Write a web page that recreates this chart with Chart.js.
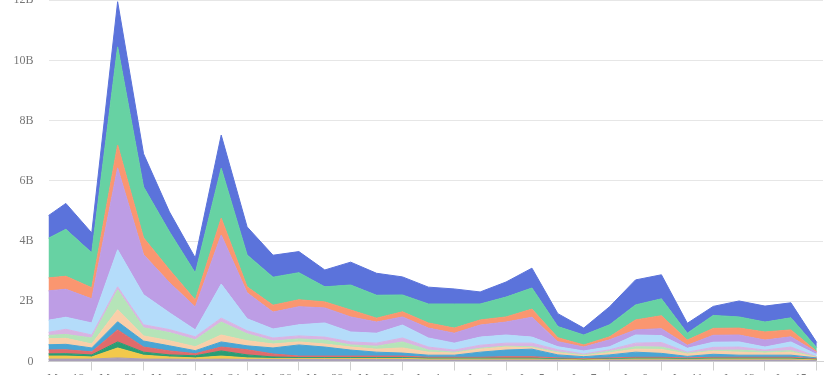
<!DOCTYPE html>
<html>
<head>
<meta charset="utf-8">
<script src="https://cdn.jsdelivr.net/npm/chart.js@4/dist/chart.umd.min.js"></script>
<style>
  html, body { margin: 0; padding: 0; background: #fff; overflow: hidden; }
  #wrap { position: relative; width: 833px; height: 375px; overflow: hidden; }
  #myChart { position: absolute; left: 0; top: -22px; }
</style>
</head>
<body>
<div id="wrap"><canvas id="myChart" width="833" height="412"></canvas></div>
<script>
// one point per day, May 17 .. Jun 16
const dates = [
  'May 17', 'May 18', 'May 19', 'May 20', 'May 21', 'May 22', 'May 23', 'May 24',
  'May 25', 'May 26', 'May 27', 'May 28', 'May 29', 'May 30', 'May 31', 'Jun 1',
  'Jun 2', 'Jun 3', 'Jun 4', 'Jun 5', 'Jun 6', 'Jun 7', 'Jun 8', 'Jun 9',
  'Jun 10', 'Jun 11', 'Jun 12', 'Jun 13', 'Jun 14', 'Jun 15', 'Jun 16'
];
const yTicks = [0, 2, 4, 6, 8, 10, 12];

// values in billions, stacked from the bottom up
const s1 = [0.08,0.08,0.08,0.12,0.08,0.08,0.07,0.08,0.07,0.07,0.07,0.07,0.07,0.07,0.07,0.05,0.05,0.05,0.05,0.05,0.05,0.03,0.05,0.05,0.05,0.05,0.05,0.05,0.05,0.05,0.03];
const s2 = [0.1,0.1,0.07,0.33,0.13,0.07,0.05,0.1,0.05,0.03,0.03,0.03,0.03,0.03,0.03,0.03,0.03,0.03,0.03,0.03,0.02,0.02,0.02,0.03,0.03,0.02,0.03,0.03,0.03,0.03,0.02];
const s3 = [0.07,0.08,0.07,0.2,0.1,0.07,0.07,0.17,0.1,0.05,0.03,0.03,0.03,0.03,0.03,0.03,0.03,0.03,0.03,0.03,0.02,0.02,0.02,0.03,0.03,0.02,0.03,0.03,0.03,0.03,0.02];
const s4 = [0.13,0.13,0.1,0.4,0.17,0.13,0.07,0.13,0.17,0.1,0.05,0.05,0.05,0.05,0.05,0.03,0.03,0.03,0.05,0.05,0.03,0.02,0.03,0.03,0.03,0.03,0.03,0.03,0.03,0.03,0.02];
const s5 = [0.17,0.18,0.13,0.27,0.2,0.17,0.1,0.17,0.13,0.2,0.37,0.3,0.2,0.13,0.1,0.07,0.07,0.17,0.22,0.25,0.1,0.07,0.1,0.17,0.13,0.05,0.1,0.07,0.07,0.07,0.03];
const s6 = [0.2,0.2,0.13,0.4,0.17,0.17,0.13,0.23,0.17,0.13,0.1,0.1,0.1,0.1,0.17,0.1,0.07,0.1,0.1,0.05,0.07,0.03,0.07,0.1,0.13,0.08,0.1,0.1,0.07,0.1,0.02];
const s7 = [0.1,0.13,0.2,0.66,0.27,0.27,0.23,0.43,0.23,0.1,0.1,0.13,0.07,0.1,0.2,0.07,0.03,0.03,0.03,0.03,0.03,0.03,0.05,0.08,0.08,0.03,0.03,0.07,0.05,0.05,0.01];
const s8 = [0.07,0.17,0.1,0.1,0.1,0.1,0.1,0.13,0.1,0.1,0.1,0.1,0.1,0.1,0.13,0.1,0.07,0.1,0.1,0.12,0.07,0.03,0.05,0.12,0.15,0.03,0.1,0.1,0.05,0.12,0.01];
const s9 = [0.4,0.4,0.4,1.23,1.0,0.56,0.23,1.13,0.4,0.3,0.37,0.47,0.33,0.33,0.43,0.3,0.23,0.27,0.27,0.2,0.1,0.1,0.1,0.27,0.23,0.13,0.17,0.17,0.1,0.17,0.07];
const s10 = [1.0,0.93,0.8,2.72,1.33,1.0,0.76,1.63,0.86,0.56,0.6,0.5,0.5,0.37,0.27,0.33,0.33,0.4,0.43,0.66,0.17,0.13,0.23,0.17,0.23,0.1,0.23,0.23,0.23,0.17,0.07];
const s11 = [0.43,0.43,0.37,0.76,0.56,0.43,0.23,0.56,0.2,0.23,0.23,0.2,0.23,0.13,0.17,0.17,0.17,0.17,0.17,0.27,0.13,0.07,0.1,0.33,0.43,0.17,0.23,0.23,0.27,0.23,0.03];
const s12 = [1.2,1.56,1.16,3.26,1.69,1.26,0.9,1.66,1.06,0.93,0.9,0.5,0.83,0.76,0.56,0.63,0.8,0.53,0.66,0.7,0.37,0.33,0.4,0.5,0.56,0.23,0.43,0.37,0.33,0.4,0.13];
const s13 = [0.7,0.86,0.66,1.5,1.1,0.66,0.5,1.1,0.93,0.73,0.7,0.56,0.76,0.73,0.6,0.56,0.5,0.4,0.5,0.66,0.43,0.23,0.6,0.83,0.8,0.33,0.3,0.53,0.53,0.5,0.17];

const series = [s1, s2, s3, s4, s5, s6, s7, s8, s9, s10, s11, s12, s13];
const colors = [
  '#a99fb8', '#f2c94c', '#2a9d74', '#e06b6b', '#4aa5d4', '#f9cfa9', '#b5e4b8',
  '#d9b4e3', '#b4dcfa', '#bd9de5', '#fa9670', '#67d2a3', '#5b73db'
];

const font = { family: "'Liberation Serif', serif", size: 12 };

const data = {
  datasets: series.map((vals, i) => ({
    label: 'Series ' + (i + 1),
    data: vals.map((v, k) => ({ x: k, y: v })),
    backgroundColor: colors[i],
    borderColor: colors[i],
    borderWidth: 1,
    pointRadius: 0,
    tension: 0,
    fill: i === 0 ? 'origin' : '-1'
  }))
};

const config = {
  type: 'line',
  data,
  options: {
    responsive: false,
    animation: false,
    layout: { padding: { top: 0, right: 10, left: 0, bottom: 0 } },
    plugins: {
      legend: { display: false },
      tooltip: { enabled: false }
    },
    scales: {
      x: {
        type: 'linear',
        min: 0.33,
        max: 30.24,
        afterBuildTicks: (s) => {
          s.ticks = dates.map((d, i) => ({ value: i })).filter(t => t.value >= s.min && t.value <= s.max);
        },
        afterFit: (s) => { s.height = 28.5; },
        border: { display: true, color: '#d2d2d2' },
        grid: {
          drawOnChartArea: false,
          tickLength: 9,
          color: (c) => (c.tick && c.tick.value % 2 === 0 ? '#cfcfcf' : 'rgba(0,0,0,0)')
        },
        ticks: {
          autoSkip: false,
          maxRotation: 0,
          padding: 1,
          color: '#777',
          font,
          callback: (v) => (v % 2 === 1 ? dates[v] : '')
        }
      },
      y: {
        stacked: true,
        min: 0,
        max: 12,
        afterBuildTicks: (s) => { s.ticks = yTicks.map(v => ({ value: v })); },
        afterFit: (s) => { s.width = 48.5; },
        border: { display: false },
        grid: { color: '#e6e6e6', drawTicks: false },
        ticks: {
          padding: 15,
          color: '#777',
          font,
          callback: (v) => (v === 0 ? '0' : v + 'B')
        }
      }
    }
  }
};

const myChart = new Chart(document.getElementById('myChart'), config);
</script>
</body>
</html>
